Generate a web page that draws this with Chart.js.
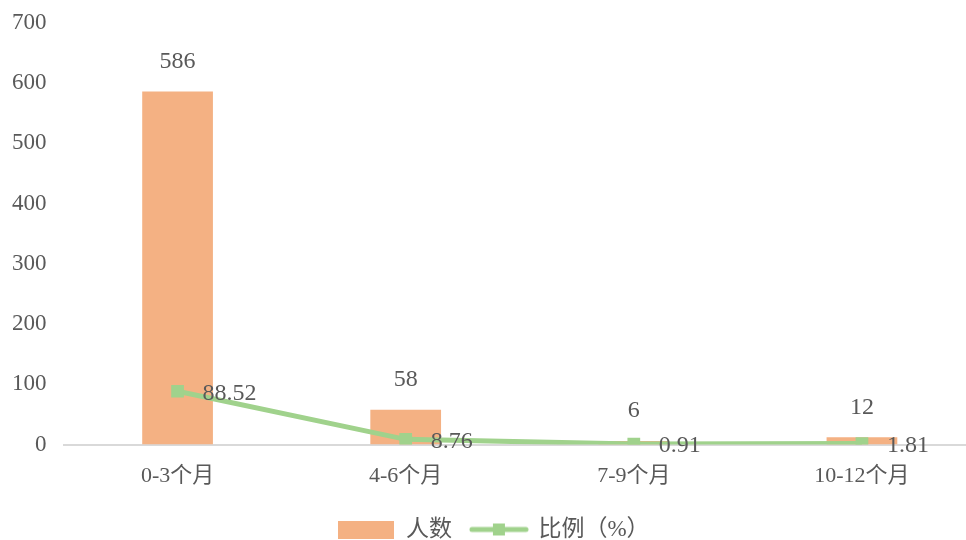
<!DOCTYPE html>
<html>
<head>
<meta charset="utf-8">
<script src="https://cdn.jsdelivr.net/npm/chart.js@4/dist/chart.umd.min.js"></script>
<style>
  html, body { margin: 0; padding: 0; background: #fff; overflow: hidden; }
  #clip { width: 966px; height: 540px; overflow: hidden; }
  canvas { display: block; }
</style>
</head>
<body>
<div id="clip"><canvas id="chart" width="985" height="540" style="width:985px;height:540px"></canvas></div>
<script>
const categories = ['0-3个月', '4-6个月', '7-9个月', '10-12个月'];
const peopleCount = [586, 58, 6, 12];
const ratioPct = [88.52, 8.76, 0.91, 1.81];
const seriesNames = ['人数', '比例（%）'];

const barColor = '#f4b183';
const lineColor = '#a0d28c';
const textColor = '#595959';
const fontFamily = '"Liberation Serif", "Noto Sans CJK SC", serif';

// legend marks
function legendBox() {
    const c = document.createElement('canvas');
    c.width = 56; c.height = 18;
    const g = c.getContext('2d');
    g.fillStyle = barColor;
    g.fillRect(0, 0, 56, 18);
    return c;
}
function legendLine() {
    const c = document.createElement('canvas');
    c.width = 60; c.height = 14;
    const g = c.getContext('2d');
    g.strokeStyle = lineColor;
    g.lineWidth = 5;
    g.lineCap = 'round';
    g.beginPath(); g.moveTo(3, 7); g.lineTo(57, 7); g.stroke();
    g.fillStyle = lineColor;
    g.fillRect(24, 1, 12, 12);
    return c;
}

// value labels drawn after datasets
const valueLabels = {
    id: 'valueLabels',
    afterDatasetsDraw(chart) {
        const ctx = chart.ctx;
        ctx.save();
        ctx.font = '24px ' + fontFamily;
        ctx.fillStyle = textColor;
        ctx.textBaseline = 'middle';
        chart.getDatasetMeta(0).data.forEach((bar, i) => {
            ctx.textAlign = 'center';
            ctx.fillText(String(peopleCount[i]), bar.x, bar.y - 30);
        });
        chart.getDatasetMeta(1).data.forEach((pt, i) => {
            ctx.textAlign = 'left';
            ctx.fillText(ratioPct[i].toFixed(2), pt.x + 25, pt.y + 2);
        });
        ctx.restore();
    }
};

const ctx = document.getElementById('chart').getContext('2d');
new Chart(ctx, {
    data: {
        labels: categories,
        datasets: [{
            type: 'bar',
            label: seriesNames[0],
            data: peopleCount,
            backgroundColor: barColor,
            barPercentage: 0.31,
            categoryPercentage: 1,
            order: 2
        }, {
            type: 'line',
            label: seriesNames[1],
            data: ratioPct,
            borderColor: lineColor,
            backgroundColor: lineColor,
            borderWidth: 5,
            pointStyle: 'rect',
            pointRadius: 9,
            pointBorderWidth: 0,
            tension: 0,
            order: 1
        }]
    },
    options: {
        responsive: false,
        animation: false,
        elements: { line: { tension: 0 } },
        layout: { padding: { top: 3, left: 3, right: 0, bottom: -11 } },
        plugins: {
            tooltip: { enabled: false },
            legend: {
                position: 'bottom',
                labels: {
                    color: textColor,
                    font: { size: 23, family: fontFamily },
                    usePointStyle: true,
                    pointStyleWidth: 56,
                    padding: 19,
                    generateLabels(chart) {
                        return chart.data.datasets.map((ds, i) => ({
                            text: ds.label,
                            fontColor: textColor,
                            pointStyle: i === 0 ? legendBox() : legendLine(),
                            lineWidth: 0,
                            datasetIndex: i,
                            hidden: false
                        }));
                    }
                }
            }
        },
        scales: {
            x: {
                grid: { display: false },
                border: { display: true, color: '#d9d9d9', width: 2 },
                ticks: { color: textColor, font: { size: 22, family: fontFamily }, padding: 10 }
            },
            y: {
                min: 0,
                max: 700,
                grid: { display: false },
                border: { display: false },
                ticks: { stepSize: 100, color: textColor, font: { size: 23, family: fontFamily }, padding: 9 }
            }
        }
    },
    plugins: [valueLabels]
});
</script>
</body>
</html>
